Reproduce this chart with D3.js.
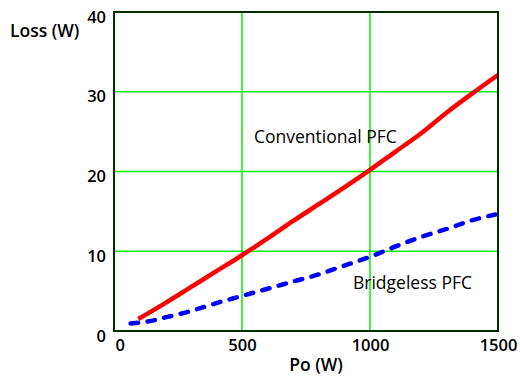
<!DOCTYPE html>
<html>
<head>
<meta charset="utf-8">
<script src="https://cdn.jsdelivr.net/npm/d3@7"></script>
<style>
  body { margin: 0; background: #fff; }
  text { font-family: "Open Sans", "Noto Sans", sans-serif; fill: #000; }
</style>
</head>
<body>
<div id="chart"></div>
<script>
// data (Po in W, loss in W)
var convPo   = [95, 200, 300, 400, 500, 600, 700, 800, 900, 1000, 1100, 1200, 1300, 1400, 1500];
var convLoss = [1.5, 3.5, 5.5, 7.5, 9.5, 11.6, 13.8, 15.9, 18.0, 20.2, 22.5, 24.8, 27.4, 29.8, 32.1];
var blessPo   = [65, 150, 200, 300, 400, 500, 600, 700, 800, 900, 1000, 1100, 1200, 1300, 1400, 1490];
var blessLoss = [0.95, 1.3, 1.7, 2.5, 3.5, 4.4, 5.3, 6.2, 7.1, 8.2, 9.3, 10.6, 11.8, 12.8, 13.9, 14.6];
var xTicks = [0, 500, 1000, 1500];
var yTicks = [0, 10, 20, 30, 40];

var width = 520, height = 377;
var margin = {top: 12, right: 22, bottom: 46, left: 114};

var svg = d3.select("#chart").append("svg")
    .attr("width", width)
    .attr("height", height);

var x = d3.scaleLinear().domain([0, 1500]).range([margin.left, width - margin.right]);
var y = d3.scaleLinear().domain([0, 40]).range([height - margin.bottom, margin.top]);

// grid
svg.append("g").selectAll("line.v")
    .data(xTicks.slice(1, -1))
    .enter().append("line")
    .attr("x1", d => x(d)).attr("x2", d => x(d))
    .attr("y1", y(0)).attr("y2", y(40))
    .attr("stroke", "#00ee00").attr("stroke-width", 1.5);
svg.append("g").selectAll("line.h")
    .data(yTicks.slice(1, -1))
    .enter().append("line")
    .attr("x1", x(0)).attr("x2", x(1500))
    .attr("y1", d => y(d)).attr("y2", d => y(d))
    .attr("stroke", "#00ee00").attr("stroke-width", 1.5);

// lines
var line = d3.line().x(d => x(d[0])).y(d => y(d[1])).curve(d3.curveMonotoneX);

svg.append("path")
    .datum(d3.zip(convPo, convLoss))
    .attr("d", line)
    .attr("fill", "none")
    .attr("stroke", "#ff0000")
    .attr("stroke-width", 4.5);

svg.append("path")
    .datum(d3.zip(blessPo, blessLoss))
    .attr("d", line)
    .attr("fill", "none")
    .attr("stroke", "#0000ff")
    .attr("stroke-width", 4.5)
    .attr("stroke-linecap", "round")
    .attr("stroke-dasharray", "7.5,9.5");

// frame
svg.append("rect")
    .attr("x", x(0)).attr("y", y(40))
    .attr("width", x(1500) - x(0)).attr("height", y(0) - y(40))
    .attr("fill", "none")
    .attr("stroke", "#002a00")
    .attr("stroke-width", 2);

// axes
var xAxis = d3.axisBottom(x).tickValues(xTicks).tickFormat(d3.format("d")).tickSize(0).tickPadding(8);
var gx = svg.append("g")
    .attr("transform", "translate(0," + y(0) + ")")
    .call(xAxis);
gx.select(".domain").remove();
gx.selectAll("text")
    .style("font-size", "16.5px")
    .style("font-weight", "600")
    .attr("text-anchor", (d, i) => i == 0 ? "start" : "middle")
    .attr("dx", (d, i) => i == 0 ? 1 : 0);

var yAxis = d3.axisLeft(y).tickValues(yTicks).tickSize(0).tickPadding(8);
var gy = svg.append("g")
    .attr("transform", "translate(" + x(0) + ",0)")
    .call(yAxis);
gy.select(".domain").remove();
gy.selectAll("text")
    .style("font-size", "16.5px")
    .style("font-weight", "600")
    .attr("dy", "0.62em");

// titles
svg.append("text")
    .attr("x", 10).attr("y", 37)
    .style("font-size", "17.5px").style("font-weight", "600")
    .text("Loss (W)");
svg.append("text")
    .attr("x", x(750) + 10).attr("y", 371)
    .attr("text-anchor", "middle")
    .style("font-size", "17.5px").style("font-weight", "600")
    .text("Po (W)");

svg.append("text")
    .attr("x", 254).attr("y", 143)
    .style("font-size", "17.5px")
    .text("Conventional PFC");
svg.append("text")
    .attr("x", 353).attr("y", 289)
    .style("font-size", "17.5px")
    .text("Bridgeless PFC");
</script>
</body>
</html>
